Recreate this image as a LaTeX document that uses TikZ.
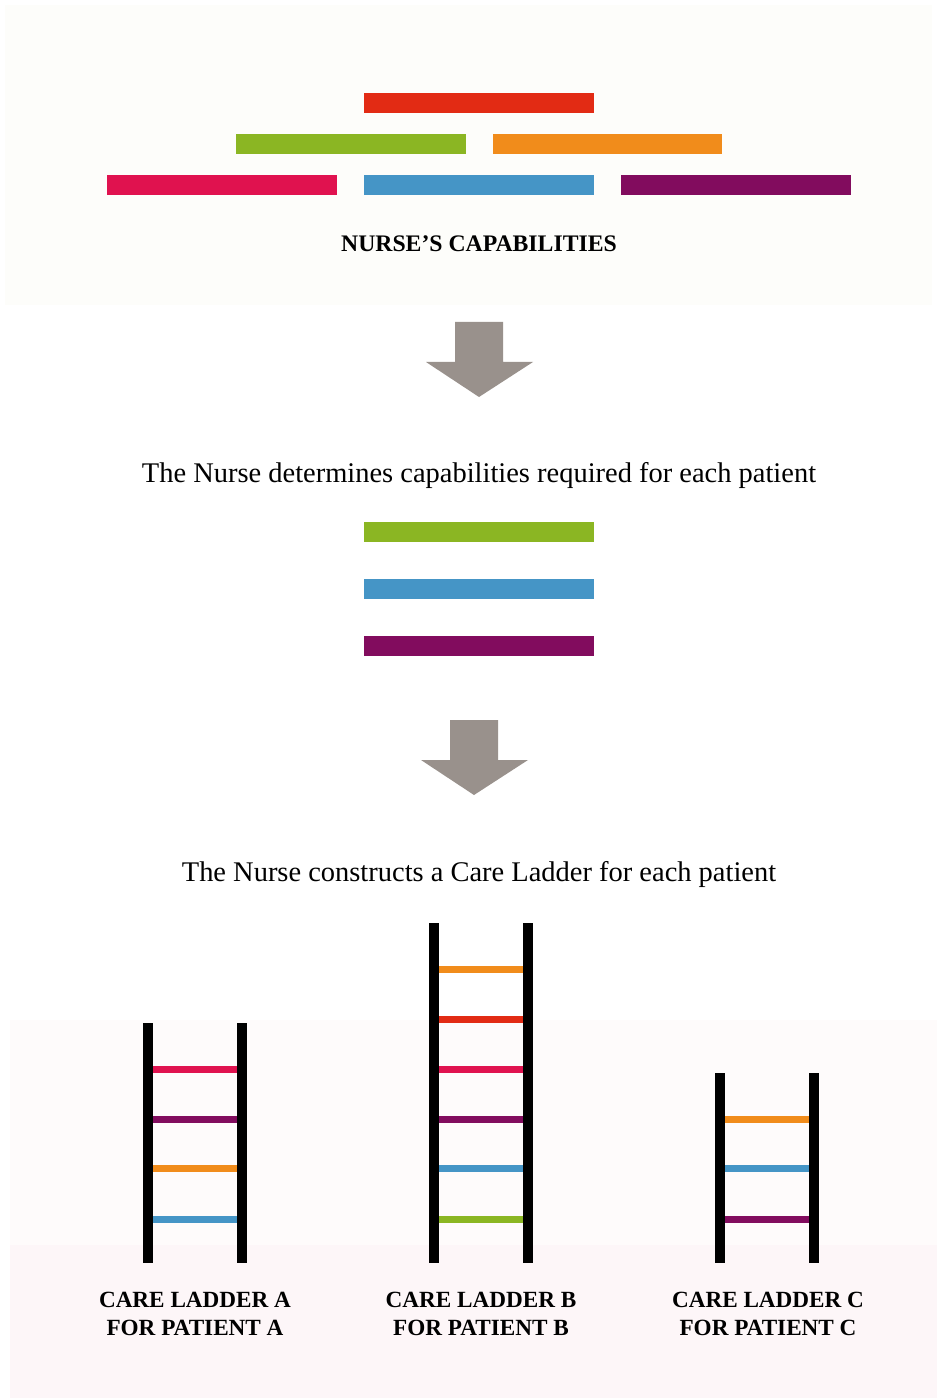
\documentclass[tikz,border=0pt]{standalone}
\usepackage{fontspec}
\setmainfont{Liberation Serif}
\usepackage{tikz}
\usetikzlibrary{positioning}
\usepackage{xcolor}

\definecolor{capred}{RGB}{226,43,20}
\definecolor{capgreen}{RGB}{139,182,35}
\definecolor{caporange}{RGB}{241,140,27}
\definecolor{cappink}{RGB}{224,18,79}
\definecolor{capblue}{RGB}{69,149,198}
\definecolor{cappurple}{RGB}{130,12,94}
\definecolor{arrowgray}{RGB}{153,145,140}
\definecolor{bgtop}{RGB}{253,253,250}
\definecolor{bgmid}{RGB}{254,251,251}
\definecolor{bgpink}{RGB}{253,246,248}

\begin{document}
\begin{tikzpicture}[
                x=0.02cm, y=-0.02cm,
                capbar/.style={fill=#1, minimum width=4.6cm, minimum height=0.4cm, inner sep=0pt},
                rail/.style={line width=0.2cm},
                rung/.style={draw=#1, line width=0.14cm},
                heading/.style={font=\fontsize{16.2}{19}\selectfont, anchor=base},
                caption/.style={font=\bfseries\fontsize{13.2}{15.5}\selectfont, align=center}
            ]
                \useasboundingbox (0,0) rectangle (937,1398);
                \fill[white] (0,0) rectangle (937,1398);
                \fill[bgtop] (5,5) rectangle (932,305);
                \fill[bgmid] (10,1020) rectangle (937,1398);
                \fill[bgpink] (10,1245) rectangle (937,1398);

                % Top: all capabilities
                \node[capbar=capblue] (blue) at (479,185) {};
                \node[capbar=cappink, left=0.52cm of blue] (pink) {};
                \node[capbar=cappurple, right=0.52cm of blue] (purple) {};
                \node[capbar=capgreen] (green) at (351,144) {};
                \node[capbar=caporange] (orange) at (607.5,144) {};
                \node[capbar=capred] (red) at (479,103) {};
                \node[font=\bfseries\fontsize{13.5}{16}\selectfont, anchor=base] (caps) at (479,252) {NURSE’S CAPABILITIES};

                % Arrows
                \foreach \cx/\cy in {479/322, 474/720}
                    \fill[arrowgray, shift={(\cx,\cy)}] (-24,0) -- (24,0) -- (24,40) -- (54,40) -- (0,75) -- (-53,40) -- (-24,40) -- cycle;

                % Required for each patient
                \node[heading] (determines) at (479,482) {The Nurse determines capabilities required for each patient};
                \node[capbar=capgreen] (selgreen) at (479,532) {};
                \node[capbar=capblue, below=0.72cm of selgreen] (selblue) {};
                \node[capbar=cappurple, below=0.74cm of selblue] (selpurple) {};

                \node[heading] (constructs) at (479,881) {The Nurse constructs a Care Ladder for each patient};

                % Ladder A
                \draw[rail] (148,1023) -- (148,1263);
                \draw[rail] (242,1023) -- (242,1263);
                \foreach \yy/\cc in {1069/cappink, 1119/cappurple, 1168/caporange, 1219/capblue}
                    \draw[rung=\cc] (153,\yy) -- (237,\yy);

                % Ladder B
                \draw[rail] (434,923) -- (434,1263);
                \draw[rail] (528,923) -- (528,1263);
                \foreach \yy/\cc in {969/caporange, 1019/capred, 1069/cappink, 1119/cappurple, 1168/capblue, 1219/capgreen}
                    \draw[rung=\cc] (439,\yy) -- (523,\yy);

                % Ladder C
                \draw[rail] (720,1073) -- (720,1263);
                \draw[rail] (814,1073) -- (814,1263);
                \foreach \yy/\cc in {1119/caporange, 1168/capblue, 1219/cappurple}
                    \draw[rung=\cc] (725,\yy) -- (809,\yy);

                % Labels
                \node[caption] (labA) at (195,1314) {CARE LADDER A\\FOR PATIENT A};
                \node[caption] (labB) at (481,1314) {CARE LADDER B\\FOR PATIENT B};
                \node[caption] (labC) at (768,1314) {CARE LADDER C\\FOR PATIENT C};
            \end{tikzpicture}
\end{document}
